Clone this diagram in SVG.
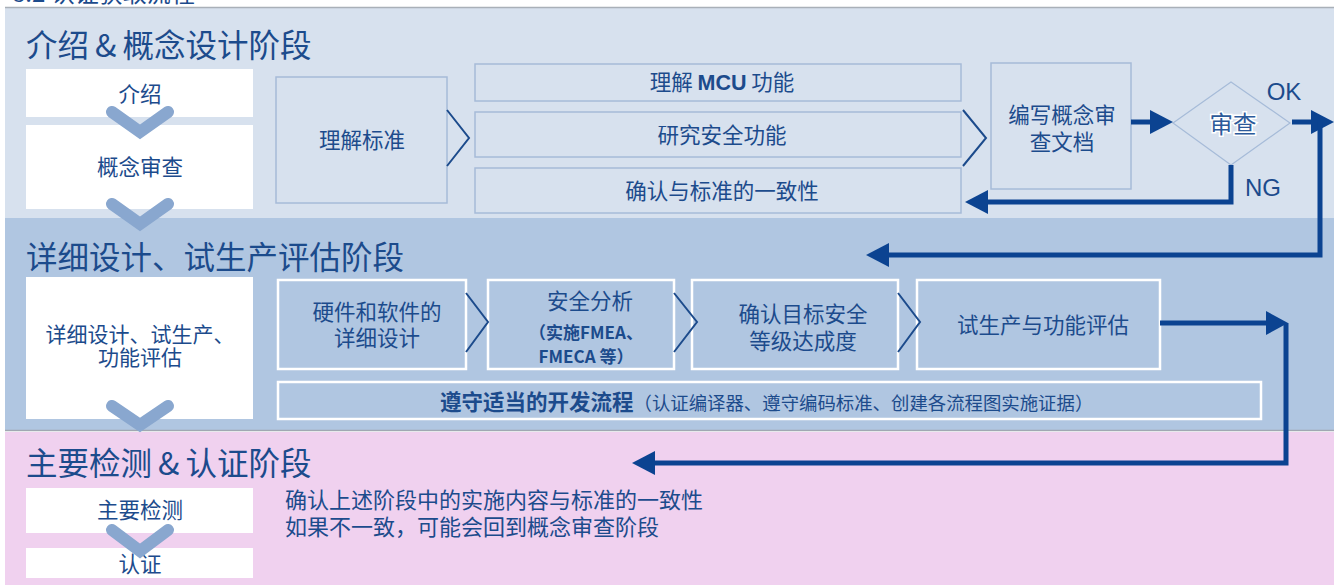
<svg xmlns="http://www.w3.org/2000/svg" width="1339" height="585" viewBox="0 0 1339 585">
<defs>
<style>
text{font-family:"Noto Sans CJK SC","Noto Sans",sans-serif;fill:#1c4b8c}
.t{font-size:31.5px}
.b{font-size:21.5px;text-anchor:middle}
.wb{fill:#ffffff}
.ob1{fill:none;stroke:#a6bbd8;stroke-width:1.5}
.ob2{fill:none;stroke:#ffffff;stroke-width:2.5}
.chv{fill:none;stroke:#89a7cf;stroke-width:12;stroke-linecap:round;stroke-linejoin:miter}
.gt{fill:none;stroke:#1c4b8c;stroke-width:2}
.ar{fill:none;stroke:#0b4391;stroke-width:5}
.ah{fill:#0b4391}
.lab{font-size:24px;font-family:"Liberation Sans",sans-serif;text-anchor:middle}
</style>
</defs>
<rect x="0" y="0" width="1339" height="585" fill="#ffffff"/>
<text x="12" y="2" style="font-size:24px">8.2 认证获取流程</text>
<g id="bands">
<rect x="5" y="7" width="1329" height="211" fill="#d7e1ee"/>
<line x1="5" y1="7.5" x2="1334" y2="7.5" stroke="#a9b0b8" stroke-width="1.5"/>
<rect x="5" y="218" width="1329" height="212" fill="#b0c6e1"/>
<line x1="5" y1="430.5" x2="1334" y2="430.5" stroke="#a0a8b2" stroke-width="1.5"/>
<rect x="5" y="432" width="1329" height="153" fill="#f0d1ef"/>
</g>
<g id="titles">
<text class="t" x="26" y="57">介绍<tspan dx="6">&amp;</tspan><tspan dx="6">概念设计阶段</tspan></text>
<text class="t" x="26" y="269">详细设计、试生产评估阶段</text>
<text class="t" x="26" y="475">主要检测<tspan dx="6">&amp;</tspan><tspan dx="6">认证阶段</tspan></text>
</g>
<g id="n-intro"><rect class="wb" x="26" y="69" width="227" height="48"/><text class="b" x="140" y="102">介绍</text></g>
<g id="n-concept"><rect class="wb" x="26" y="125" width="227" height="84"/><text class="b" x="140" y="175">概念审查</text></g>
<g id="n-detail"><rect class="wb" x="26" y="277" width="227" height="142"/><text class="b" x="140" y="342" style="font-size:21px">详细设计、试生产、</text><text class="b" x="140" y="365" style="font-size:21px">功能评估</text></g>
<g id="n-inspect"><rect class="wb" x="26" y="488" width="227" height="45"/><text class="b" x="140" y="518">主要检测</text></g>
<g id="n-cert"><rect class="wb" x="26" y="548" width="227" height="30"/><text class="b" x="140" y="572">认证</text></g>
<g id="left-chevrons">
<polyline class="chv" points="112,112 140,132 168,112"/>
<polyline class="chv" points="112,204 140,224 168,204"/>
<polyline class="chv" points="112,406 140,425 168,406"/>
<polyline class="chv" points="112,530 140,551 168,530"/>
</g>
<g id="n-std"><rect class="ob1" x="276" y="77" width="171" height="126"/><text class="b" x="362" y="148">理解标准</text></g>
<g id="n-mcu"><rect class="ob1" x="475" y="64" width="486" height="37"/><text class="b" x="722" y="90">理解 <tspan font-weight="bold" font-family="Liberation Sans, sans-serif">MCU</tspan> 功能</text></g>
<g id="n-safefn"><rect class="ob1" x="475" y="112" width="486" height="45"/><text class="b" x="722" y="143">研究安全功能</text></g>
<g id="n-conform"><rect class="ob1" x="475" y="168" width="486" height="45"/><text class="b" x="722" y="199">确认与标准的一致性</text></g>
<g id="n-doc"><rect class="ob1" x="991" y="63" width="140" height="126"/><text class="b" x="1062" y="123">编写概念审</text><text class="b" x="1062" y="150">查文档</text></g>
<g id="n-review"><polygon fill="none" stroke="#a6bbd8" stroke-width="1.2" points="1173,123 1231,82 1290,123 1231,165"/><text x="1233" y="133" style="font-size:23.5px;text-anchor:middle;stroke:#ffffff;stroke-width:3;paint-order:stroke;fill:#2c5a9a">审查</text></g>
<g id="n-hw"><rect class="ob2" x="278" y="280" width="188" height="89"/><text class="b" x="377" y="320">硬件和软件的</text><text class="b" x="377" y="346">详细设计</text></g>
<g id="n-sa"><rect class="ob2" x="488" y="280" width="186" height="89"/><text class="b" x="590" y="309">安全分析</text><text x="586" y="339" style="font-size:17px;text-anchor:middle;font-weight:bold">（实施FMEA、</text><text x="586" y="363" style="font-size:17px;text-anchor:middle;font-weight:bold">FMECA 等）</text></g>
<g id="n-sil"><rect class="ob2" x="692" y="280" width="206" height="89"/><text class="b" x="803" y="322">确认目标安全</text><text class="b" x="803" y="349">等级达成度</text></g>
<g id="n-trial"><rect class="ob2" x="917" y="280" width="243" height="89"/><text class="b" x="1043" y="333">试生产与功能评估</text></g>
<g id="n-process"><rect class="ob2" x="278" y="382" width="983" height="37"/><text x="440" y="410" style="font-size:21.5px;font-weight:bold">遵守适当的开发流程<tspan style="font-size:18.4px;font-weight:normal">（认证编译器、遵守编码标准、创建各流程图实施证据）</tspan></text></g>
<g id="n-desc"><text x="285" y="508" style="font-size:22px">确认上述阶段中的实施内容与标准的一致性</text><text x="285" y="535" style="font-size:22px">如果不一致，可能会回到概念审查阶段</text></g>
<g id="connectors">
<polyline class="gt" points="447,110 469,138 447,166"/>
<polyline class="gt" points="963,110 986,138 963,166"/>
<polyline class="gt" points="466,293 488,322 466,352"/>
<polyline class="gt" points="674,293 697,322 674,352"/>
<polyline class="gt" points="898,293 920,322 898,352"/>
<line class="ar" x1="1131" y1="122" x2="1155" y2="122"/>
<polygon class="ah" points="1173,122 1150,110 1150,134"/>
<polyline class="ar" points="1231,165 1231,202 985,202"/>
<polygon class="ah" points="965,202 988,190 988,214"/>
<line class="ar" x1="1292" y1="122" x2="1315" y2="122"/>
<polygon class="ah" points="1334,122 1311,110 1311,134"/>
<polyline class="ar" points="1320,122 1320,255 885,255"/>
<polygon class="ah" points="866,255 889,243 889,267"/>
<line class="ar" x1="1160" y1="323" x2="1270" y2="323"/>
<polygon class="ah" points="1288,323 1266,311 1266,335"/>
<polyline class="ar" points="1286,323 1286,463 650,463"/>
<polygon class="ah" points="632,463 655,451 655,475"/>
<text class="lab" x="1284" y="100">OK</text>
<text class="lab" x="1263" y="196">NG</text>
</g>
</svg>
